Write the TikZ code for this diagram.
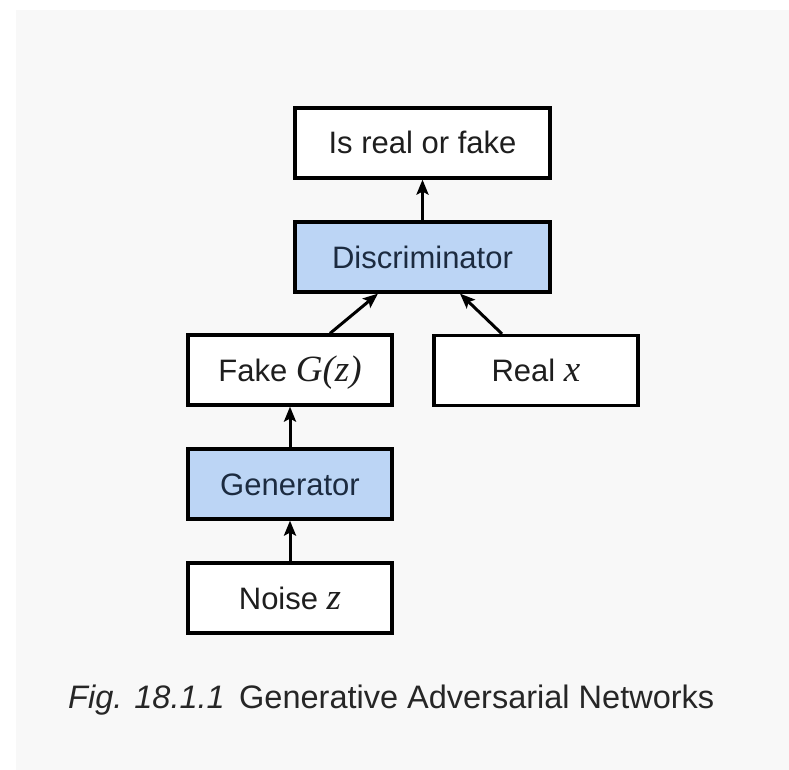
\documentclass[tikz,border=0pt]{standalone}
\usepackage{fontspec}
\setmainfont{Liberation Sans}
\newfontfamily\serifitfont{Liberation Serif}
\usetikzlibrary{arrows.meta}
\definecolor{bgc}{HTML}{F8F8F8}
\definecolor{bluefill}{HTML}{BCD5F5}
\definecolor{bluetext}{HTML}{1C2B40}
\definecolor{boxtext}{HTML}{1E1E1E}
\definecolor{captext}{HTML}{262626}
\newcommand{\mvar}[1]{{\fontsize{37}{42}\selectfont\serifitfont\itshape #1}}
\tikzset{
  box/.style={draw=black, line width=3.2pt, fill=white, minimum height=70pt,
    inner sep=0pt, text=boxtext, font=\fontsize{31}{36}\selectfont,
    text height=22pt, text depth=0pt},
  small/.style={minimum width=204pt},
  wide/.style={minimum width=255pt},
  bluebox/.style={fill=bluefill, text=bluetext},
  arr/.style={line width=3pt, -{Stealth[length=15pt,width=12pt,inset=3pt]}}
}
\begin{document}
\begin{tikzpicture}[x=1pt,y=1pt]
  \useasboundingbox (0,0) rectangle (789,-770);
  \fill[white] (0,0) rectangle (789,-770);
  \fill[bgc] (16,-10) rectangle (789,-770);

  \node[box,wide] (top) at (422.5,-143) {Is real or fake};
  \node[box,wide,bluebox] (disc) at (422.5,-257) {Discriminator};
  \node[box,small] (fake) at (290,-370) {Fake \mvar{G(z)}};
  \node[box,small] (real) at (536,-370.5) {Real \mvar{x}};
  \node[box,small,bluebox] (gen) at (290,-484) {Generator};
  \node[box,small] (noise) at (290,-598) {Noise \mvar{z}};

  \draw[arr] (disc.north) -- (top.south);
  \draw[arr] ([xshift=40pt]fake.north) -- ([xshift=-44.5pt]disc.south);
  \draw[arr] ([xshift=-34pt]real.north) -- ([xshift=37.5pt]disc.south);
  \draw[arr] (gen.north) -- (fake.south);
  \draw[arr] (noise.north) -- (gen.south);

  \node[anchor=base west, inner sep=0pt, text=captext, font=\fontsize{32.5}{38}\selectfont\itshape] (figlabel) at (68,-708) {Fig. 18.1.1};
  \node[anchor=base west, inner sep=0pt, text=captext, font=\fontsize{32.5}{38}\selectfont] (figtitle) at (239,-708) {Generative Adversarial Networks};
\end{tikzpicture}
\end{document}
